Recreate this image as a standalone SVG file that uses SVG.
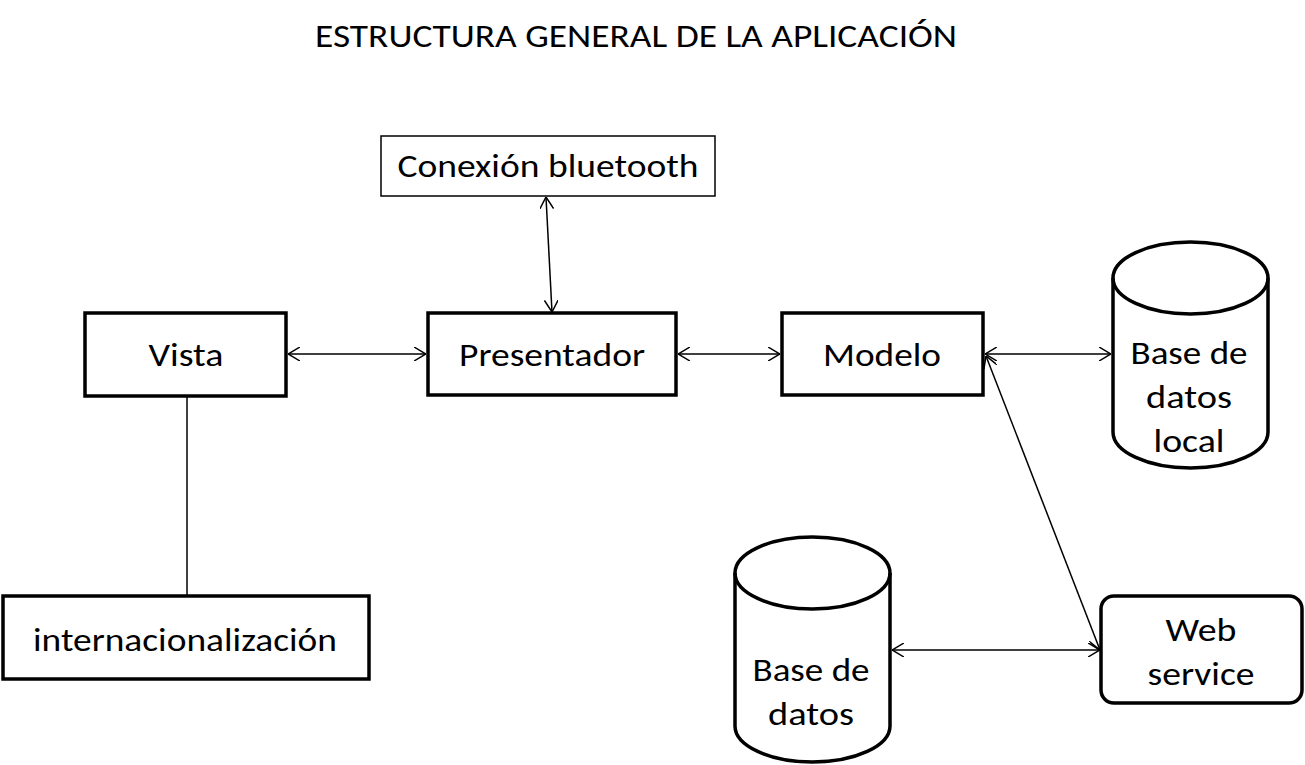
<svg xmlns="http://www.w3.org/2000/svg" width="1305" height="765" viewBox="0 0 1305 765">
<defs>
<style>
.t{font-family:Carlito,Lato,"Open Sans",sans-serif;font-size:32px;fill:#000;text-anchor:middle}
.box{fill:#fff;stroke:#000;stroke-width:3.5}
.thin{fill:#fff;stroke:#000;stroke-width:1.5}
.c{fill:none;stroke:#000;stroke-width:1.5}
</style>
<marker id="a" viewBox="0 0 12 14" refX="12" refY="7" markerWidth="12" markerHeight="14" markerUnits="userSpaceOnUse" orient="auto-start-reverse">
<path d="M0,0 L12,7 L0,14" fill="none" stroke="#000" stroke-width="1.5"/>
</marker>
</defs>
<rect width="1305" height="765" fill="#fff"/>
<text class="t" x="636" y="47" font-size="29" textLength="642" lengthAdjust="spacingAndGlyphs">ESTRUCTURA GENERAL DE LA APLICACIÓN</text>
<g id="connectors">
<line class="c" x1="288" y1="354" x2="426" y2="354" marker-start="url(#a)" marker-end="url(#a)"/>
<line class="c" x1="678" y1="354" x2="780" y2="354" marker-start="url(#a)" marker-end="url(#a)"/>
<line class="c" x1="985" y1="354" x2="1111" y2="354" marker-start="url(#a)" marker-end="url(#a)"/>
<line class="c" x1="546" y1="197" x2="552" y2="312" marker-start="url(#a)" marker-end="url(#a)"/>
<line class="c" x1="986" y1="356" x2="1100" y2="650" marker-start="url(#a)" marker-end="url(#a)"/>
<line class="c" x1="892" y1="650" x2="1100" y2="650" marker-start="url(#a)" marker-end="url(#a)"/>
<line class="c" x1="187" y1="396" x2="187" y2="596"/>
</g>
<g id="bluetooth">
<rect class="thin" x="381" y="136" width="334" height="60"/>
<text class="t" x="548" y="177" textLength="301" lengthAdjust="spacingAndGlyphs">Conexión bluetooth</text>
</g>
<g id="vista">
<rect class="box" x="85" y="313" width="201" height="83"/>
<text class="t" x="186" y="366" textLength="75" lengthAdjust="spacingAndGlyphs">Vista</text>
</g>
<g id="presentador">
<rect class="box" x="428" y="313" width="248" height="82"/>
<text class="t" x="552" y="366" textLength="186" lengthAdjust="spacingAndGlyphs">Presentador</text>
</g>
<g id="modelo">
<rect class="box" x="782" y="313" width="201" height="82"/>
<text class="t" x="882" y="366" textLength="118" lengthAdjust="spacingAndGlyphs">Modelo</text>
</g>
<g id="internacionalizacion">
<rect class="box" x="3" y="596" width="366" height="83"/>
<text class="t" x="185" y="651" textLength="304" lengthAdjust="spacingAndGlyphs">internacionalización</text>
</g>
<g id="webservice">
<rect class="box" x="1101" y="596" width="201" height="107" rx="13"/>
<text class="t" x="1201" y="641" textLength="71" lengthAdjust="spacingAndGlyphs">Web</text>
<text class="t" x="1201" y="685" textLength="107" lengthAdjust="spacingAndGlyphs">service</text>
</g>
<g id="dblocal">
<path class="box" d="M1113,278 A77.5,36 0 0 1 1268,278 L1268,432 A77.5,36 0 0 1 1113,432 Z"/>
<path class="c" style="stroke-width:3.5" d="M1113,278 A77.5,36 0 0 0 1268,278"/>
<text class="t" x="1189" y="364" textLength="117" lengthAdjust="spacingAndGlyphs">Base de</text>
<text class="t" x="1189" y="408" textLength="86" lengthAdjust="spacingAndGlyphs">datos</text>
<text class="t" x="1189" y="452" textLength="71" lengthAdjust="spacingAndGlyphs">local</text>
</g>
<g id="db">
<path class="box" d="M735,573 A77.5,36 0 0 1 890,573 L890,726 A77.5,36 0 0 1 735,726 Z"/>
<path class="c" style="stroke-width:3.5" d="M735,573 A77.5,36 0 0 0 890,573"/>
<text class="t" x="811" y="681" textLength="117" lengthAdjust="spacingAndGlyphs">Base de</text>
<text class="t" x="811" y="725" textLength="86" lengthAdjust="spacingAndGlyphs">datos</text>
</g>
</svg>
